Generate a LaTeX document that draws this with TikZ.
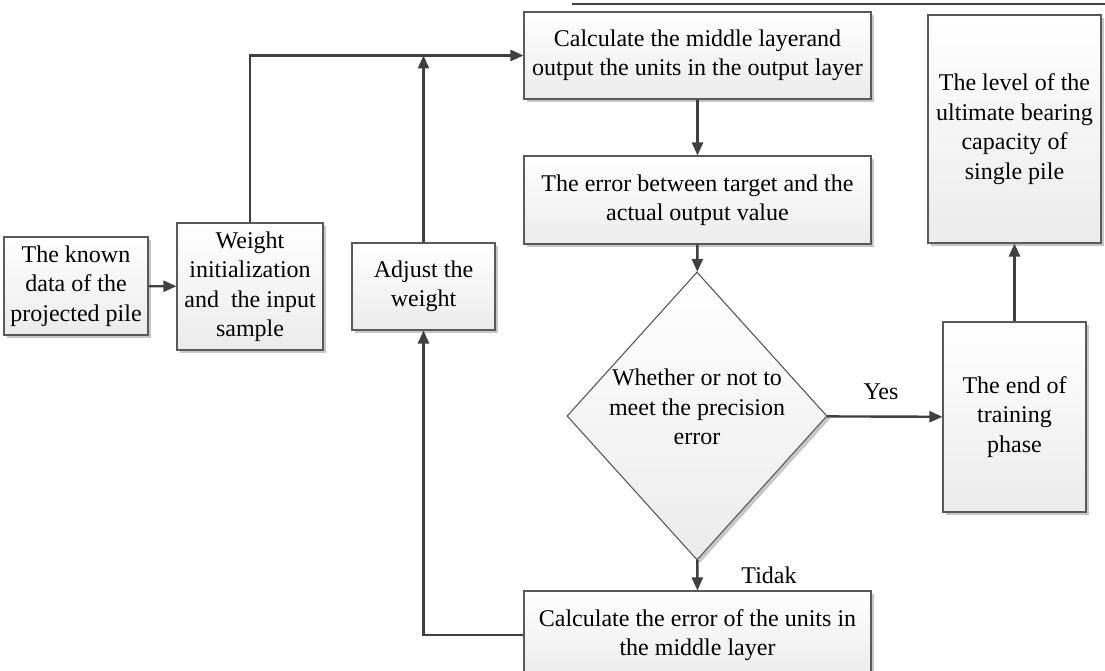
\documentclass[tikz,border=0pt]{standalone}
\usepackage{fontspec}
\setmainfont{Liberation Serif}
\usetikzlibrary{shapes.geometric,arrows.meta,shadows}
\definecolor{boxline}{HTML}{5A5A5A}
\definecolor{boxbot}{HTML}{EBEBEB}
\definecolor{lineclr}{HTML}{404040}
\begin{document}
\begin{tikzpicture}[x=1pt,y=-1pt,
  box/.style={draw=boxline, line width=1.1pt, top color=white, bottom color=boxbot,
    align=center, inner sep=0pt, font=\fontsize{24}{29.5}\selectfont,
    drop shadow={shadow xshift=3pt, shadow yshift=-3pt, opacity=0.22, fill=black}},
  decbox/.style={box, shape=diamond, minimum width=260pt, minimum height=288pt},
  conn/.style={draw=lineclr, line width=2.4pt, -{Triangle[length=13pt,width=11pt]}},
  lbl/.style={inner sep=0pt, font=\fontsize{24}{29.5}\selectfont},
  dectxt/.style={align=center, inner sep=0pt, font=\fontsize{24}{29.5}\selectfont}]
\clip (0,0) rectangle (1105,671);
\fill[white] (0,0) rectangle (1105,671);
% header line
\coordinate (hl) at (572,4);
\coordinate (hr) at (1105,4);
\draw[lineclr, line width=1.4pt] (hl) -- (hr);
% nodes
\node[box, minimum width=144pt, minimum height=98pt] (known) at (76,286)
  {The known\\data of the\\projected pile};
\node[box, minimum width=146pt, minimum height=127pt] (weight) at (250,286.5)
  {Weight\\initialization\\and~ the input\\sample};
\node[box, minimum width=143pt, minimum height=87pt] (adjust) at (423.5,286.5)
  {Adjust the\\weight};
\node[box, minimum width=347pt, minimum height=87pt] (calc) at (697.5,55.5)
  {Calculate the middle layerand\\output the units in the output layer};
\node[box, minimum width=347pt, minimum height=88pt] (err) at (697.5,200)
  {The error between target and the\\actual output value};
\node[decbox] (dec) at (697,416) {};
\node[dectxt] (dect) at (697,407) {Whether or not to\\meet the precision\\error};
\node[box, minimum width=347pt, minimum height=88pt] (bottom) at (697.5,635)
  {Calculate the error of the units in\\the middle layer};
\node[box, minimum width=143pt, minimum height=190pt] (endp) at (1014.5,417)
  {The end of\\training\\phase};
\node[box, minimum width=173pt, minimum height=228pt] (level) at (1014.5,129)
  {The level of the\\ultimate bearing\\capacity of\\single pile};
% labels
\node[lbl] (yes) at (881,392) {Yes};
\node[lbl] (tidak) at (769,575) {Tidak};
% connectors
\draw[conn] (known) -- (weight);
\draw[conn] (weight.north) |- (calc.west);
\draw[conn] (adjust.north) -- (adjust.north |- calc.west);
\draw[conn] (bottom.west) -| (adjust.south);
\draw[conn] (calc) -- (err);
\draw[conn] (err) -- (dec);
\draw[conn] (dec) -- (bottom);
\draw[conn] (dec) -- (endp);
\draw[conn] (endp) -- (level);
\end{tikzpicture}
\end{document}
